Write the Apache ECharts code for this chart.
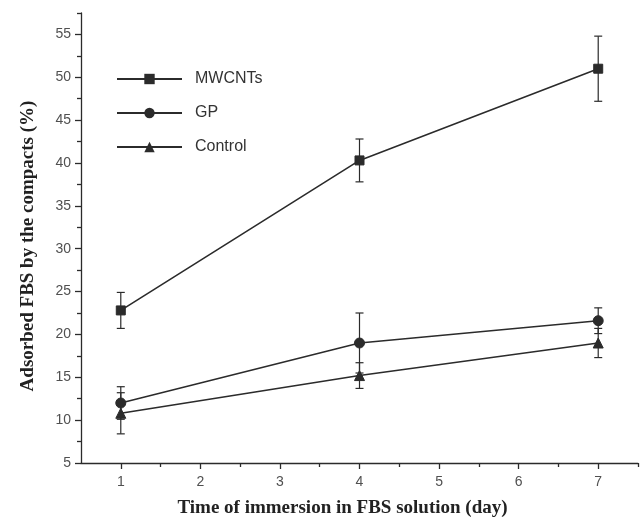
<!DOCTYPE html>
<html>
<head>
<meta charset="utf-8">
<script src="https://cdn.jsdelivr.net/npm/echarts@6/dist/echarts.min.js"></script>
<style>
html,body{margin:0;padding:0;background:#fff;}
#chart{width:641px;height:529px;}
</style>
</head>
<body>
<div id="chart"></div>
<script>
const days = [1, 4, 7];
const mwcnts = [22.8, 40.3, 51.0];
const mwcntsErr = [2.1, 2.5, 3.8];
const gp = [12.0, 19.0, 21.6];
const gpErr = [1.9, 3.5, 1.5];
const control = [10.8, 15.2, 19.0];
const controlErr = [2.4, 1.5, 1.7];
const xMajor = [1, 2, 3, 4, 5, 6, 7];
const xMinor = [1.5, 2.5, 3.5, 4.5, 5.5, 6.5, 7.5];
const yMajor = [5, 10, 15, 20, 25, 30, 35, 40, 45, 50, 55];
const yMinor = [7.5, 12.5, 17.5, 22.5, 27.5, 32.5, 37.5, 42.5, 47.5, 52.5, 57.5];

const ink = '#2b2b2b';
const chart = echarts.init(document.getElementById('chart'));

function pts(vals) { return days.map((d, i) => [d, vals[i]]); }
function errs(vals, e) { return days.map((d, i) => [d, vals[i] - e[i], vals[i] + e[i]]); }

function errSeries(vals, e) {
  return {
    type: 'custom',
    silent: true,
    z: 3,
    data: errs(vals, e),
    renderItem: function (params, api) {
      const x = api.value(0);
      const lo = api.coord([x, api.value(1)]);
      const hi = api.coord([x, api.value(2)]);
      const w = 4;
      const style = { stroke: ink, lineWidth: 1.2, fill: null };
      return {
        type: 'group',
        children: [
          { type: 'line', shape: { x1: lo[0], y1: lo[1], x2: hi[0], y2: hi[1] }, style: style },
          { type: 'line', shape: { x1: lo[0] - w, y1: lo[1], x2: lo[0] + w, y2: lo[1] }, style: style },
          { type: 'line', shape: { x1: hi[0] - w, y1: hi[1], x2: hi[0] + w, y2: hi[1] }, style: style }
        ]
      };
    }
  };
}

function lineSeries(name, vals, symbol, size) {
  return {
    name: name,
    type: 'line',
    data: pts(vals),
    symbol: symbol,
    symbolSize: size,
    z: 4,
    lineStyle: { color: ink, width: 1.6 },
    itemStyle: { color: ink, borderColor: ink },
    animation: false
  };
}

const axisTextStyle = { fontFamily: 'Liberation Sans', fontSize: 14, color: '#505050' };
const titleStyle = { fontFamily: 'Liberation Serif', fontWeight: 'bold', fontSize: 19, color: '#222' };

chart.setOption({
  animation: false,
  backgroundColor: '#fff',
  grid: { left: 81, right: 3, top: 13, bottom: 66 },
  legend: {
    orient: 'vertical',
    left: 111,
    top: 66,
    itemWidth: 65,
    itemHeight: 13,
    itemGap: 18,
    data: ['MWCNTs', 'GP', 'Control'],
    textStyle: { fontFamily: 'Liberation Sans', fontSize: 16, color: '#333', padding: [0, 0, 0, 8] }
  },
  xAxis: [
    {
      type: 'value', min: 0.5, max: 7.5, position: 'bottom',
      splitLine: { show: false },
      axisLine: { show: true, lineStyle: { color: ink, width: 1.3 } },
      axisTick: { show: true, length: 6, customValues: xMajor, lineStyle: { color: ink, width: 1.3 } },
      axisLabel: { customValues: xMajor, margin: 12, ...axisTextStyle },
      name: 'Time of immersion in FBS solution (day)',
      nameLocation: 'middle', nameGap: 36,
      nameTextStyle: { ...titleStyle, padding: [0, 34, 0, 0] }
    },
    {
      type: 'value', min: 0.5, max: 7.5, position: 'bottom',
      splitLine: { show: false },
      axisLine: { show: false },
      axisTick: { show: true, length: 4, customValues: xMinor, lineStyle: { color: ink, width: 1.3 } },
      axisLabel: { show: false }
    }
  ],
  yAxis: [
    {
      type: 'value', min: 5, max: 57.5, position: 'left',
      splitLine: { show: false },
      axisLine: { show: true, lineStyle: { color: ink, width: 1.3 } },
      axisTick: { show: true, length: 6, customValues: yMajor, lineStyle: { color: ink, width: 1.3 } },
      axisLabel: { customValues: yMajor, margin: 10, ...axisTextStyle },
      name: 'Adsorbed FBS by the compacts (%)',
      nameLocation: 'middle', nameGap: 43,
      nameTextStyle: { ...titleStyle, padding: [0, 16, 0, 0] }
    },
    {
      type: 'value', min: 5, max: 57.5, position: 'left',
      splitLine: { show: false },
      axisLine: { show: false },
      axisTick: { show: true, length: 4, customValues: yMinor, lineStyle: { color: ink, width: 1.3 } },
      axisLabel: { show: false }
    }
  ],
  series: [
    errSeries(mwcnts, mwcntsErr),
    errSeries(gp, gpErr),
    errSeries(control, controlErr),
    lineSeries('MWCNTs', mwcnts, 'rect', 9),
    lineSeries('GP', gp, 'circle', 10),
    lineSeries('Control', control, 'triangle', 10)
  ]
});
</script>
</body>
</html>
